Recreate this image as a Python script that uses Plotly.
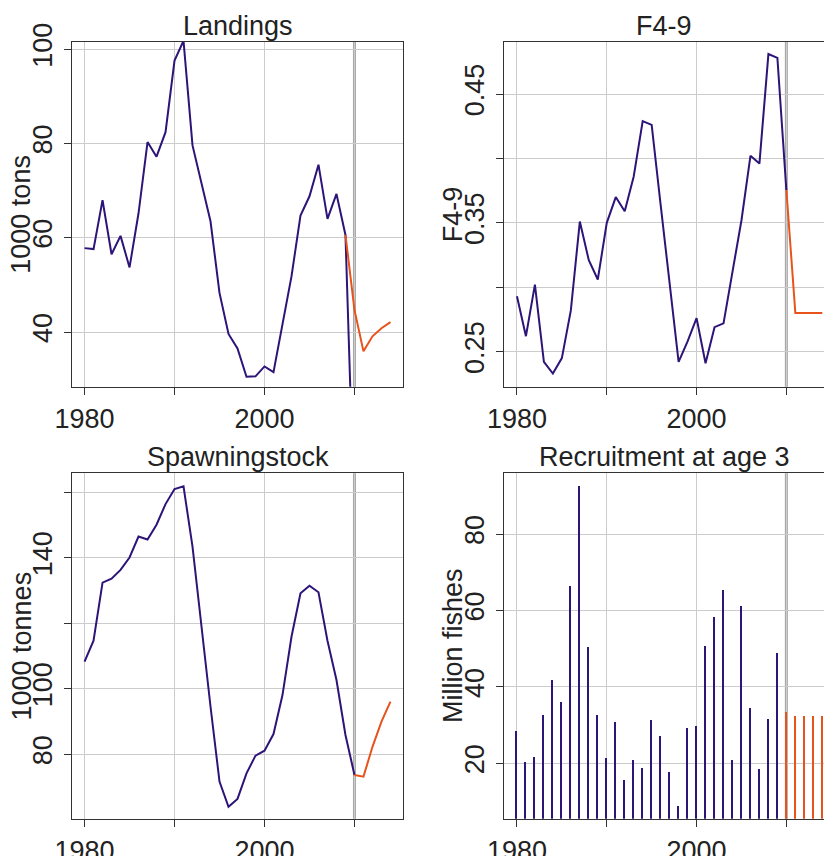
import plotly.graph_objects as go

# ---------------- data ----------------
years_hist = list(range(1980, 2011))          # 1980..2010
years_proj = list(range(2009, 2015))          # landings projection 2009..2014
years_proj10 = list(range(2010, 2015))        # 2010..2014

landings_hist = [57.8, 57.6, 68.0, 56.5, 60.4, 53.7, 65.2, 80.3, 77.2, 82.4,
                 97.6, 101.8, 79.6, 71.7, 63.5, 48.3, 39.6, 36.5, 30.5, 30.6,
                 32.7, 31.5, 41.9, 51.8, 64.7, 68.8, 75.5, 64.0, 69.3, 60.6,
                 0.0]
landings_proj = [60.6, 44.7, 35.9, 39.1, 40.8, 42.1]

f_hist = [0.293, 0.262, 0.302, 0.242, 0.233, 0.245, 0.282, 0.351, 0.321, 0.306,
          0.350, 0.370, 0.359, 0.386, 0.429, 0.426, 0.364, 0.302, 0.242, 0.258,
          0.276, 0.241, 0.269, 0.272, 0.312, 0.352, 0.402, 0.396, 0.481, 0.478,
          0.3755]
f_proj = [0.3755, 0.280, 0.280, 0.280, 0.280]

ssb_hist = [108.3, 114.7, 132.4, 133.6, 136.3, 140.1, 146.5, 145.6, 150.1, 156.4,
            161.0, 161.8, 143.4, 118.0, 94.6, 71.7, 64.0, 66.4, 74.2, 79.6,
            81.1, 86.2, 98.1, 115.9, 129.2, 131.5, 129.5, 114.7, 102.7, 85.9,
            73.7]
ssb_proj = [73.7, 73.2, 82.3, 90.0, 96.1]

years_rec = list(range(1980, 2010))
rec_hist = [28.5, 20.3, 21.6, 32.6, 41.7, 35.9, 66.4, 92.6, 50.4, 32.6,
            21.3, 30.7, 15.6, 20.9, 18.7, 31.2, 27.2, 17.6, 8.8, 29.3,
            29.6, 50.7, 58.1, 65.3, 20.9, 61.2, 34.4, 18.5, 31.6, 48.9]
rec_proj = [33.4, 32.4, 32.4, 32.4, 32.4]

titles = ["Landings", "F4-9", "Spawningstock", "Recruitment at age 3"]
ytitles = ["1000 tons", "F4-9", "1000 tonnes", "Million fishes"]
x_ticks = [1980, 1990, 2000, 2010]
x_ticktext = ["1980", "", "2000", ""]
y_ticks = [[40, 60, 80, 100], [0.25, 0.30, 0.35, 0.40, 0.45],
           [80, 100, 120, 140, 160], [20, 40, 60, 80]]
y_ticktext = [["40", "60", "80", "100"], ["0.25", "", "0.35", "", "0.45"],
              ["80", "100", "", "140", ""], ["20", "40", "60", "80"]]
y_ranges = [[28.4, 101.6], [0.2228, 0.4906], [60.35, 165.8], [5.53, 95.9]]
divider_year = 2010

# ---------------- style ----------------
W, H = 824, 856
BLUE = "#2d1478"
ORANGE = "#e8531c"
VGRAY = "#a8a8a8"
GRID = "#cccccc"
AXC = "#333333"
TXT = "#222222"
FONT = "Liberation Sans, Arial, sans-serif"
FS = 27

left_dom = [72.3 / W, 402.7 / W]
right_dom = [504.3 / W, 1.0]
top_dom = [1 - 386.7 / H, 1 - 41.7 / H]
bot_dom = [1 - 818.7 / H, 1 - 473.3 / H]
left_range = [1978.64, 2015.36]
right_range = [1978.59, 2014.19]

fig = go.Figure()

panels = [
    dict(xd=left_dom, yd=top_dom, xr=left_range, right=False),
    dict(xd=right_dom, yd=top_dom, xr=right_range, right=True),
    dict(xd=left_dom, yd=bot_dom, xr=left_range, right=False),
    dict(xd=right_dom, yd=bot_dom, xr=right_range, right=True),
]

for i, p in enumerate(panels):
    n = "" if i == 0 else str(i + 1)
    fig.update_layout(**{
        f"xaxis{n}": dict(
            domain=p["xd"], range=p["xr"], anchor=f"y{n}", automargin=False,
            tickvals=x_ticks, ticktext=x_ticktext,
            showgrid=True, gridcolor=GRID, gridwidth=1, zeroline=False,
            showline=True, linecolor=AXC, linewidth=1, mirror=True,
            ticks="outside", ticklen=7, tickcolor=AXC, tickwidth=1,
            tickfont=dict(family=FONT, size=FS, color=TXT),
            ticklabelstandoff=1,
        ),
        f"yaxis{n}": dict(
            domain=p["yd"], range=y_ranges[i], anchor=f"x{n}", automargin=False,
            tickvals=y_ticks[i], ticktext=y_ticktext[i],
            showgrid=True, gridcolor=GRID, gridwidth=1, zeroline=False,
            showline=True, linecolor=AXC, linewidth=1,
            mirror=(not p["right"]),
            ticks="outside", ticklen=7, tickcolor=AXC, tickwidth=1,
            tickangle=-90,
            tickfont=dict(family=FONT, size=FS, color=TXT),
            ticklabelstandoff=2,
        ),
    })
    # divider line at 2010
    fig.add_shape(type="line", xref=f"x{n}", yref=f"y{n} domain",
                  x0=divider_year, x1=divider_year, y0=0, y1=1,
                  line=dict(color=VGRAY, width=3), layer="below")
    # titles
    xc = (p["xd"][0] + p["xd"][1]) / 2
    fig.add_annotation(text=titles[i], xref="paper", yref="paper",
                       x=xc, y=p["yd"][1] + 16 / H, xanchor="center",
                       yanchor="middle", showarrow=False,
                       font=dict(family=FONT, size=FS, color=TXT))
    # y titles
    xt = (21.5 if not p["right"] else 453) / W
    fig.add_annotation(text=ytitles[i], xref="paper", yref="paper",
                       x=xt, y=(p["yd"][0] + p["yd"][1]) / 2,
                       xanchor="center", yanchor="middle", textangle=-90,
                       showarrow=False,
                       font=dict(family=FONT, size=FS, color=TXT))

line_kw = dict(mode="lines", showlegend=False, hoverinfo="skip")
# Landings
fig.add_trace(go.Scatter(x=years_hist, y=landings_hist, line=dict(color=BLUE, width=2),
                         xaxis="x", yaxis="y", **line_kw))
fig.add_trace(go.Scatter(x=years_proj, y=landings_proj, line=dict(color=ORANGE, width=2),
                         xaxis="x", yaxis="y", **line_kw))
# F
fig.add_trace(go.Scatter(x=years_hist, y=f_hist, line=dict(color=BLUE, width=2),
                         xaxis="x2", yaxis="y2", **line_kw))
fig.add_trace(go.Scatter(x=years_proj10, y=f_proj, line=dict(color=ORANGE, width=2),
                         xaxis="x2", yaxis="y2", **line_kw))
# SSB
fig.add_trace(go.Scatter(x=years_hist, y=ssb_hist, line=dict(color=BLUE, width=2),
                         xaxis="x3", yaxis="y3", **line_kw))
fig.add_trace(go.Scatter(x=years_proj10, y=ssb_proj, line=dict(color=ORANGE, width=2),
                         xaxis="x3", yaxis="y3", **line_kw))
# Recruitment (type 'h' bars)
fig.add_trace(go.Bar(x=years_rec, y=rec_hist, width=0.16, marker=dict(color=BLUE, line=dict(width=0)),
                     xaxis="x4", yaxis="y4", showlegend=False, hoverinfo="skip"))
fig.add_trace(go.Bar(x=years_proj10, y=rec_proj, width=0.26, marker=dict(color=ORANGE, line=dict(width=0)),
                     xaxis="x4", yaxis="y4", showlegend=False, hoverinfo="skip"))

fig.update_layout(width=W, height=H, margin=dict(l=0, r=0, t=0, b=0, pad=0, autoexpand=False),
                  paper_bgcolor="white", plot_bgcolor="white",
                  showlegend=False, bargap=0)

fig.write_html("out.html", config={"displayModeBar": False},
               post_script="document.body.style.margin='0';document.body.style.overflow='hidden';")
